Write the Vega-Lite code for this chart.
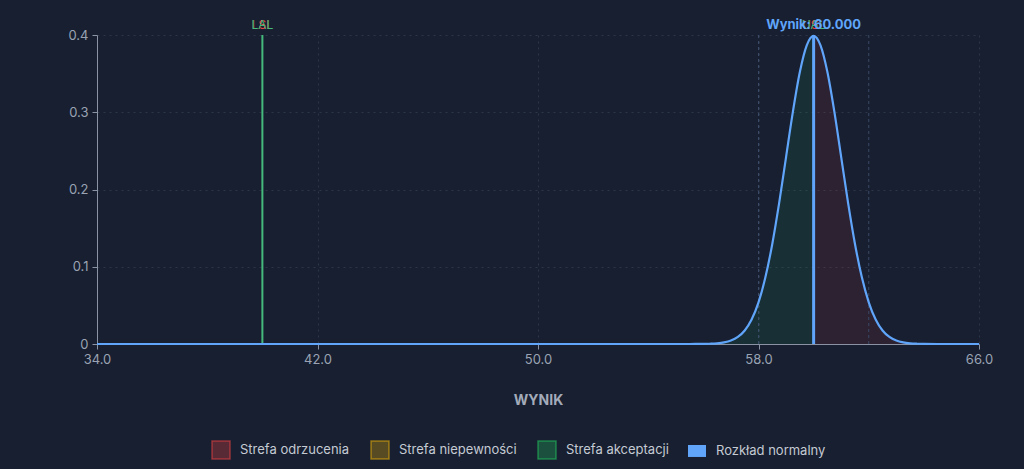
{
  "$schema": "https://vega.github.io/schema/vega-lite/v6.json",
  "autosize": {"type": "none"},
  "width": 882,
  "height": 309,
  "padding": {"left": 97, "top": 35, "right": 45, "bottom": 125},
  "background": "#171f30",
  "datasets": {
    "curve": [
      {"x": 34, "y": 0}, {"x": 54, "y": 0}, {"x": 55, "y": 0.0000015},
      {"x": 55.5, "y": 0.000016}, {"x": 56, "y": 0.000134}, {"x": 56.25, "y": 0.000353},
      {"x": 56.5, "y": 0.000873}, {"x": 56.75, "y": 0.002029}, {"x": 57, "y": 0.004432},
      {"x": 57.25, "y": 0.009094}, {"x": 57.5, "y": 0.017528}, {"x": 57.75, "y": 0.03174},
      {"x": 58, "y": 0.053991}, {"x": 58.25, "y": 0.086277}, {"x": 58.5, "y": 0.129518},
      {"x": 58.75, "y": 0.182649}, {"x": 59, "y": 0.241971}, {"x": 59.25, "y": 0.301137},
      {"x": 59.5, "y": 0.352065}, {"x": 59.75, "y": 0.386668}, {"x": 60, "y": 0.398942},
      {"x": 60.25, "y": 0.386668}, {"x": 60.5, "y": 0.352065}, {"x": 60.75, "y": 0.301137},
      {"x": 61, "y": 0.241971}, {"x": 61.25, "y": 0.182649}, {"x": 61.5, "y": 0.129518},
      {"x": 61.75, "y": 0.086277}, {"x": 62, "y": 0.053991}, {"x": 62.25, "y": 0.03174},
      {"x": 62.5, "y": 0.017528}, {"x": 62.75, "y": 0.009094}, {"x": 63, "y": 0.004432},
      {"x": 63.25, "y": 0.002029}, {"x": 63.5, "y": 0.000873}, {"x": 63.75, "y": 0.000353},
      {"x": 64, "y": 0.000134}, {"x": 64.5, "y": 0.000016}, {"x": 65, "y": 0.0000015},
      {"x": 66, "y": 0}
    ],
    "bounds": [{"x": 58}, {"x": 62}],
    "labels": [
      {"x": 40, "text": "LSL", "color": "#ef4444"},
      {"x": 40, "text": "LAL", "color": "#45b97c"},
      {"x": 60, "text": "USL", "color": "#ef4444"},
      {"x": 60, "text": "UAL", "color": "#45b97c"}
    ]
  },
  "layer": [
    {
      "data": {"name": "curve"},
      "transform": [{"filter": "datum.x <= 60"}],
      "mark": {"type": "area", "fillOpacity": 0.1, "interpolate": "monotone"},
      "encoding": {
        "x": {
          "field": "x", "type": "quantitative",
          "scale": {"domain": [34, 66], "nice": false},
          "axis": {
            "values": [34, 42, 50, 58, 66], "format": ".1f", "title": "WYNIK",
            "grid": true, "gridDash": [2, 4], "gridColor": "#2b3649",
            "titlePadding": 27, "labelFlush": false
          }
        },
        "y": {
          "field": "y", "type": "quantitative",
          "scale": {"domain": [0, 0.4], "nice": false},
          "axis": {
            "values": [0, 0.1, 0.2, 0.3, 0.4], "title": null,
            "labelExpr": "datum.value == 0 ? '0' : format(datum.value, '.1f')",
            "grid": true, "gridDash": [2, 4], "gridColor": "#2b3649"
          }
        },
        "color": {
          "datum": "Strefa akceptacji",
          "title": null,
          "scale": {
            "domain": ["Strefa odrzucenia", "Strefa niepewności", "Strefa akceptacji", "Rozkład normalny"],
            "range": ["#ef4444", "#eab308", "#22c55e", "#60a5fa"]
          },
          "legend": {
            "orient": "none",
            "legendX": 114,
            "legendY": 405,
            "direction": "horizontal",
            "title": null,
            "symbolType": "square",
            "encode": {
              "symbols": {
                "update": {
                  "shape": {"signal": "datum.value == 'Rozkład normalny' ? 'M-1,-1H1V0.33H-1Z' : 'square'"},
                  "fill": {"scale": "color", "field": "value"},
                  "fillOpacity": {"signal": "datum.value == 'Rozkład normalny' ? 1 : 0.3"},
                  "stroke": {"scale": "color", "field": "value"},
                  "strokeOpacity": {"signal": "datum.value == 'Rozkład normalny' ? 0 : 0.55"},
                  "strokeWidth": {"value": 1.5},
                  "opacity": {"value": 1}
                }
              },
              "labels": {
                "update": {
                  "dy": {"signal": "datum.value == 'Rozkład normalny' ? -3 : 0"}
                }
              }
            }
          }
        }
      }
    },
    {
      "data": {"name": "curve"},
      "transform": [{"filter": "datum.x >= 60"}],
      "mark": {"type": "area", "fillOpacity": 0.1, "interpolate": "monotone"},
      "encoding": {
        "x": {"field": "x", "type": "quantitative"},
        "y": {"field": "y", "type": "quantitative"},
        "color": {"datum": "Strefa odrzucenia", "title": null}
      }
    },
    {
      "data": {"name": "bounds"},
      "mark": {"type": "rule", "color": "#3b4a66", "strokeDash": [3, 3], "strokeWidth": 1},
      "encoding": {"x": {"field": "x", "type": "quantitative"}}
    },
    {
      "data": {"values": [{"x": 40}]},
      "mark": {"type": "rule", "color": "#45b97c", "strokeWidth": 2},
      "encoding": {"x": {"field": "x", "type": "quantitative"}}
    },
    {
      "data": {"name": "curve"},
      "mark": {"type": "line", "strokeWidth": 2.2, "interpolate": "monotone"},
      "encoding": {
        "x": {"field": "x", "type": "quantitative"},
        "y": {"field": "y", "type": "quantitative"},
        "color": {"datum": "Rozkład normalny", "title": null}
      }
    },
    {
      "data": {"values": [{"x": 60}]},
      "mark": {"type": "rule", "color": "#60a5fa", "strokeWidth": 3},
      "encoding": {"x": {"field": "x", "type": "quantitative"}}
    },
    {
      "data": {"name": "labels"},
      "mark": {"type": "text", "fontSize": 12, "dy": -10, "font": "Inter"},
      "encoding": {
        "x": {"field": "x", "type": "quantitative"},
        "y": {"datum": 0.4},
        "text": {"field": "text"},
        "color": {"field": "color", "type": "nominal", "scale": null}
      }
    },
    {
      "data": {"values": [{"x": 60, "text": "Wynik: 60.000"}]},
      "mark": {"type": "text", "fontSize": 13, "fontWeight": "bold", "dy": -10, "color": "#60a5fa", "font": "Inter"},
      "encoding": {
        "x": {"field": "x", "type": "quantitative"},
        "y": {"datum": 0.4},
        "text": {"field": "text"}
      }
    }
  ],
  "config": {
    "view": {"stroke": null},
    "font": "Inter",
    "axis": {
      "domainColor": "#8a93a3",
      "tickColor": "#8a93a3",
      "labelColor": "#9aa3b3",
      "labelFontSize": 13,
      "titleColor": "#a3abba",
      "titleFontSize": 14,
      "titleFontWeight": "bold",
      "labelFont": "Inter",
      "titleFont": "Inter"
    },
    "axisY": {"labelPadding": 4},
    "axisX": {"labelPadding": 4},
    "legend": {
      "labelColor": "#c5cad3",
      "labelFontSize": 13,
      "labelFont": "Inter",
      "symbolSize": 324,
      "columnPadding": 18,
      "labelOffset": 9
    }
  }
}
